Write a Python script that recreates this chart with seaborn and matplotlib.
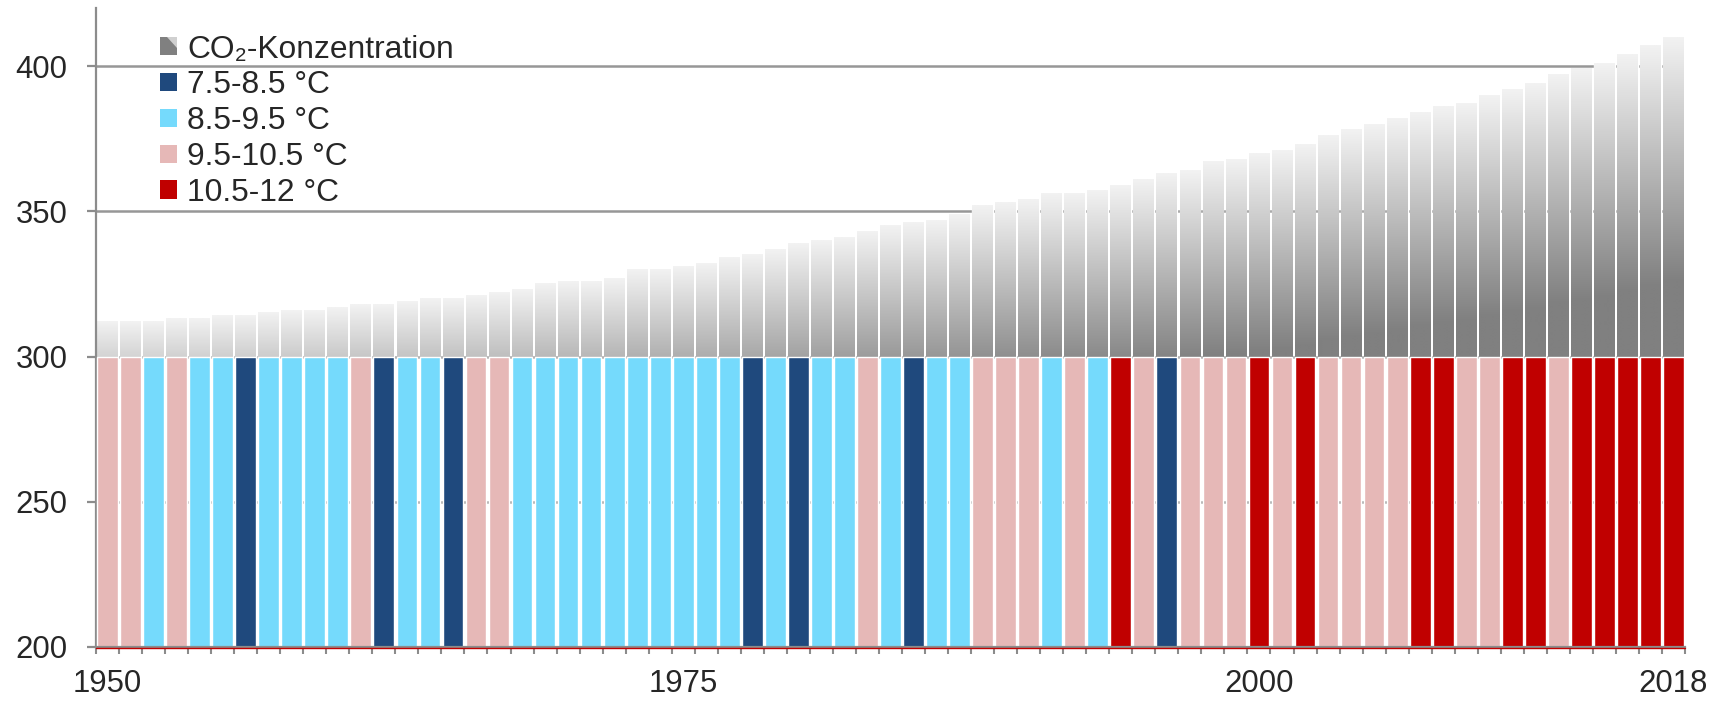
import numpy as np
import matplotlib
matplotlib.use("Agg")
import matplotlib.pyplot as plt
import seaborn as sns
from matplotlib.patches import Rectangle, Polygon
from matplotlib.legend_handler import HandlerBase

# ---------------- data ----------------
years = list(range(1950, 2019))
co2_ppm = [312, 312, 312, 313, 313, 314, 314, 315, 316, 316,
           317, 318, 318, 319, 320, 320, 321, 322, 323, 325,
           326, 326, 327, 330, 330, 331, 332, 334, 335, 337,
           339, 340, 341, 343, 345, 346, 347, 349, 352, 353,
           354, 356, 356, 357, 359, 361, 363, 364, 367, 368,
           370, 371, 373, 376, 378, 380, 382, 384, 386, 387,
           390, 392, 394, 397, 399, 401, 404, 407, 410]

temp_classes = ["7.5-8.5 °C", "8.5-9.5 °C", "9.5-10.5 °C", "10.5-12 °C"]
class_colors = ["#1f497d", "#75dafc", "#e6b8b7", "#c00000"]
code_map = {"D": temp_classes[0], "C": temp_classes[1],
            "P": temp_classes[2], "R": temp_classes[3]}
temp_codes = ("PPCPCCDCCC"   # 1950-59
              "CPDCCDPPCC"   # 1960-69
              "CCCCCCCCDC"   # 1970-79
              "DCCPCDCCPP"   # 1980-89
              "PCPCRPDPPP"   # 1990-99
              "RPRPPPPRRP"   # 2000-09
              "PRRPRRRRR")   # 2010-18
temp_class_per_year = [code_map[c] for c in temp_codes]
temp_bar_top = [300] * len(years)

co2_label = "CO\u2082-Konzentration"
y_ticks = [200, 250, 300, 350, 400]
x_label_years = [1950, 1975, 2000, 2018]

# ---------------- style ----------------
sns.set_style("white")
plt.rcParams["font.family"] = ["Liberation Sans", "DejaVu Sans"]

fig = plt.figure(figsize=(17.17, 7.02), dpi=100)
ax = fig.add_axes([96 / 1717, 1 - 647 / 702, (1685 - 96) / 1717, (647 - 8) / 702])

bar_w = 0.9
ymin, ymax = 200, 420

# CO2 bars (grey base, gradient overlaid)
sns.barplot(x=years, y=co2_ppm, color="#808080", saturation=1, width=bar_w,
            ax=ax, zorder=2)
co2_patches = list(ax.patches)

n = 256
t = np.linspace(0, 1, n)  # 0 bottom -> 1 top
f = 1 - t                 # fraction from top
g = np.where(f >= 0.4, 128, 242 - (f / 0.4) * (242 - 128)) / 255.0
grad = np.stack([g, g, g], axis=-1)[::-1]  # (n, 3), row 0 = top
grad_img = np.repeat(grad[:, None, :], 2, axis=1)
for p in co2_patches:
    x0 = p.get_x()
    w = p.get_width()
    h = p.get_height()
    ax.imshow(grad_img, extent=[x0, x0 + w, ymin, h],
              aspect="auto", origin="upper", zorder=2.5, interpolation="bilinear")
    p.set_facecolor("none")

# temperature class bars
sns.barplot(x=years, y=temp_bar_top, hue=temp_class_per_year,
            hue_order=temp_classes, palette=class_colors, dodge=False,
            saturation=1, width=bar_w, legend=False, ax=ax, zorder=3)

ax.set_xlim(-0.5, len(years) - 0.5)
ax.set_ylim(ymin, ymax)

# grid
ax.set_axisbelow(True)
ax.yaxis.grid(True, color="#979797", linewidth=1.8, zorder=0)
ax.xaxis.grid(False)

# spines
for s in ["top", "right"]:
    ax.spines[s].set_visible(False)
ax.spines["left"].set_color("#8c8c8c")
ax.spines["left"].set_linewidth(1.6)
ax.spines["bottom"].set_color("#8c8c8c")
ax.spines["bottom"].set_linewidth(1.6)
ax.spines["bottom"].set_zorder(4)
# thin red base line just under the axis
ax.plot([-0.5, len(years) - 0.5], [ymin - 0.45, ymin - 0.45], color="#c00000",
        linewidth=1.0, clip_on=False, zorder=4.5)

# y ticks
ax.set_yticks(y_ticks)
ax.set_yticklabels([str(v) for v in y_ticks])
ax.tick_params(axis="y", which="major", left=True, direction="out", length=6.5,
               width=1.6, color="#8c8c8c", labelsize=22.4, pad=14)

# x ticks
pos = [years.index(y) for y in x_label_years]
ax.set_xticks(pos)
ax.set_xticklabels([str(y) for y in x_label_years])
ax.set_xticks(np.arange(-0.5, len(years)), minor=True)
ax.tick_params(axis="x", which="major", bottom=True, length=0, labelsize=22.4,
               pad=16)
ax.tick_params(axis="x", which="minor", bottom=True, direction="out", length=5,
               width=1.5, color="#8c8c8c")
ax.set_xlabel("")
ax.set_ylabel("")


# legend
class GradientHandler(HandlerBase):
    def create_artists(self, legend, orig_handle, xdescent, ydescent, width,
                       height, fontsize, trans):
        x, y = -xdescent, -ydescent
        r = Rectangle((x, y), width, height, facecolor="#808080",
                      edgecolor="none", transform=trans)
        tri = Polygon([(x + width * 0.4, y + height), (x + width, y + height),
                       (x + width, y + height * 0.4)], closed=True,
                      facecolor="#d0d0d0", edgecolor="none", transform=trans)
        return [r, tri]


co2_handle = Rectangle((0, 0), 1, 1, facecolor="#808080")
handles = [co2_handle] + [Rectangle((0, 0), 1, 1, facecolor=c, edgecolor="none")
                          for c in class_colors]
labels = [co2_label] + temp_classes
leg = fig.legend(handles, labels, loc="upper left",
                 bbox_to_anchor=(160 / 1717, 1 - 34.7 / 702),
                 frameon=False, fontsize=22.9, handlelength=0.55,
                 handleheight=0.5, handletextpad=0.3, labelspacing=0.182,
                 borderpad=0, borderaxespad=0,
                 handler_map={co2_handle: GradientHandler()})

fig.savefig("out.png", dpi=100, facecolor="white")
